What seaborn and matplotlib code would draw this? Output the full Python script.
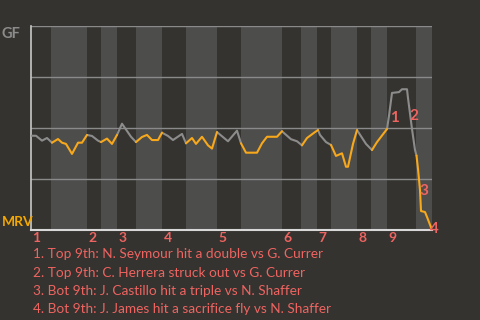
import numpy as np
import pandas as pd
import matplotlib
matplotlib.use("Agg")
import matplotlib.pyplot as plt
import seaborn as sns

# ---- data (x = play position, wp = GF win probability) ----
play = [0.0, 1.0, 2.2, 3.2, 4.2, 5.4, 6.2, 7.0, 8.2, 9.4, 10.2, 11.2, 12.2, 13.4, 14.0,
        15.2, 16.2, 17.2, 18.2, 20.0, 21.0, 22.2, 23.2, 24.2, 25.4, 26.2, 27.4, 28.4,
        30.2, 31.0, 32.2, 33.0, 34.2, 35.4, 36.2, 37.2, 39.4, 41.2, 42.0, 43.0, 45.2,
        46.2, 47.2, 49.2, 50.2, 52.0, 53.2, 54.2, 55.2, 56.8, 57.4, 57.8, 59.0, 60.0,
        61.0, 62.2, 63.0, 63.4, 64.4, 65.2, 67.0, 68.2, 69.2, 71.2, 71.6, 72.2, 73.6,
        74.2, 75.2, 75.4, 76.2, 76.8, 77.1, 77.4, 77.8, 78.0, 78.8, 79.2, 80.2]
wp = [0.462, 0.462, 0.438, 0.451, 0.428, 0.446, 0.428, 0.422, 0.373, 0.428, 0.428, 0.466,
      0.461, 0.438, 0.431, 0.448, 0.422, 0.466, 0.521, 0.457, 0.431, 0.456, 0.466, 0.441,
      0.441, 0.477, 0.461, 0.441, 0.471, 0.425, 0.451, 0.422, 0.457, 0.415, 0.399, 0.480,
      0.435, 0.487, 0.425, 0.379, 0.379, 0.425, 0.457, 0.457, 0.484, 0.445, 0.435, 0.415,
      0.451, 0.480, 0.490, 0.466, 0.431, 0.417, 0.363, 0.376, 0.310, 0.310, 0.422, 0.490,
      0.422, 0.392, 0.431, 0.495, 0.560, 0.672, 0.676, 0.690, 0.690, 0.647, 0.495, 0.392,
      0.365, 0.299, 0.196, 0.093, 0.088, 0.064, 0.0]

# half-inning boundaries (top halves start at even index)
half_edges = [0, 4.0, 11.2, 14.0, 17.2, 21.0, 26.2, 31.0, 37.2, 42.0, 50.2, 54.0,
              57.2, 60.0, 65.2, 68.0, 71.2, 77.0, 80.2]
innings = ["1", "2", "3", "4", "5", "6", "7", "8", "9"]

events = ["1", "2", "3", "4"]
event_x = [72.6, 76.6, 78.6, 80.6]
event_y = [0.549, 0.559, 0.191, 0.005]
notes = [
    "1. Top 9th: N. Seymour hit a double vs G. Currer",
    "2. Top 9th: C. Herrera struck out vs G. Currer",
    "3. Bot 9th: J. Castillo hit a triple vs N. Shaffer",
    "4. Bot 9th: J. James hit a sacrifice fly vs N. Shaffer",
]
team_top, team_bottom = "GF", "MRV"

# ---- styling ----
BG = "#34332f"
LIGHT = "#4d4d4c"
GRAY = "#8c8c8c"
ORANGE = "#f7a81b"
RED = "#ef6461"
FONT = ["Lato", "DejaVu Sans"]

sns.set_theme(style="dark")
plt.rcParams["font.family"] = FONT

fig = plt.figure(figsize=(4.8, 3.2), dpi=100, facecolor=BG)
ax = fig.add_axes([31 / 480, 1 - 230 / 320, 401 / 480, 204 / 320])
ax.set_facecolor(BG)

# bands: top halves dark, bottom halves light
for i in range(len(half_edges) - 1):
    if i % 2 == 1:
        ax.axvspan(half_edges[i], half_edges[i + 1], color=LIGHT, lw=0, zorder=0)

for g in [0.25, 0.5, 0.75, 1.0]:
    ax.axhline(g, color="#8a8a8a", lw=1.0, zorder=1)

# build segments coloured by half-inning
rows = []
seg = 0
prev_half = None
for i in range(len(play) - 1):
    mid = (play[i] + play[i + 1]) / 2
    k = int(np.searchsorted(half_edges, mid, side="right") - 1)
    half = "top" if k % 2 == 0 else "bottom"
    if half != prev_half:
        seg += 1
        rows.append((seg, half, play[i], wp[i]))
        prev_half = half
    rows.append((seg, half, play[i + 1], wp[i + 1]))
df = pd.DataFrame(rows, columns=["seg", "half", "x", "wp"])

sns.lineplot(data=df, x="x", y="wp", hue="half", units="seg", estimator=None,
             sort=False, palette={"top": GRAY, "bottom": ORANGE}, lw=1.5,
             legend=False, ax=ax, zorder=3)

ax.set_xlim(0, 80.2)
ax.set_ylim(0, 1)
ax.set_xticks([])
ax.set_yticks([])
ax.set_xlabel("")
ax.set_ylabel("")
for s in ["top", "right"]:
    ax.spines[s].set_visible(False)
ax.spines["left"].set_color("#c8c8c8")
ax.spines["bottom"].set_color("#d8d8d8")
ax.spines["left"].set_linewidth(1.2)
ax.spines["bottom"].set_linewidth(1.5)

# inning labels
for j, lab in enumerate(innings):
    ax.text(half_edges[2 * j] + 0.3, -0.012, lab, color=RED, fontsize=10,
            fontweight="bold", ha="left", va="top", clip_on=False)

# event labels
for lab, x, y in zip(events, event_x, event_y):
    ax.text(x, y, lab, color=RED, fontsize=11, fontweight="bold",
            ha="center", va="center", clip_on=False, zorder=5)

fig.text(2 / 480, 1 - 38 / 320, team_top, color=GRAY, fontsize=10.5,
         fontweight="bold", ha="left", va="baseline")
fig.text(2 / 480, 1 - 226 / 320, team_bottom, color="#f5a800", fontsize=10,
         fontweight="bold", ha="left", va="baseline")

for n, t in enumerate(notes):
    fig.text(33 / 480, 1 - (258.5 + 18.2 * n) / 320, t, color=RED, fontsize=9.8,
             ha="left", va="baseline")

fig.savefig("out.png", dpi=100, facecolor=BG)
